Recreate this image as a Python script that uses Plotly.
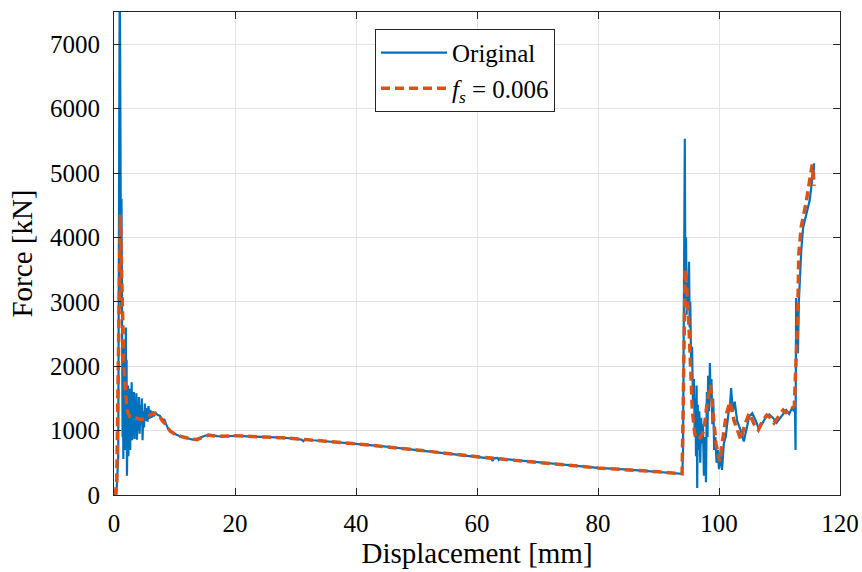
import plotly.graph_objects as go

orig_disp = [0.00, 0.40, 0.70, 0.85, 0.95, 1.05, 1.12, 1.18, 1.24, 1.30, 1.36, 1.42, 1.48, 1.54, 1.60,
             1.66, 1.72, 1.78, 1.84, 1.90, 1.96, 2.02, 2.08, 2.14, 2.20, 2.26, 2.32, 2.38, 2.45, 2.52,
             2.60, 2.68, 2.76, 2.84, 2.92, 3.00, 3.10, 3.20, 3.30, 3.40, 3.50, 3.60, 3.70, 3.80, 3.90,
             4.00, 4.12, 4.24, 4.36, 4.48, 4.60, 4.72, 4.84, 4.96, 5.10, 5.25, 5.40, 5.55, 5.70, 5.85,
             6.00, 6.20, 6.40, 6.60, 6.80, 7.00, 7.30, 7.60, 8.00, 8.30, 8.60, 9.00, 10.0, 11.0, 12.0,
             13.0, 14.0, 15.0, 16.0, 17.0, 18.5, 20.0, 22.0, 25.0, 28.0, 30.0, 31.0, 31.3, 31.6, 33.0,
             36.0, 40.0, 45.0, 50.0, 54.0, 57.0, 60.0, 62.4, 62.6, 62.8, 63.4, 63.6, 63.8, 66.0, 70.0,
             75.0, 80.0, 85.0, 90.0, 93.9, 94.05, 94.2, 94.35, 94.45, 94.55, 94.65, 94.75, 94.85, 95.05,
             95.15, 95.25, 95.4, 95.55, 95.7, 95.85, 96.0, 96.1, 96.2, 96.3, 96.4, 96.5, 96.6, 96.75,
             96.9, 97.05, 97.2, 97.35, 97.5, 97.7, 97.85, 98.0, 98.1, 98.2, 98.35, 98.5, 98.6, 98.75,
             98.9, 99.05, 99.2, 99.4, 99.6, 99.8, 100.0, 100.2, 100.5, 100.8, 101.1, 101.4, 101.6, 101.8,
             102.0, 102.3, 102.6, 103.0, 103.6, 104.1, 104.6, 105.0, 105.5, 106.1, 106.6, 107.1, 107.7,
             108.3, 108.9, 109.5, 110.1, 110.6, 111.1, 111.6, 112.1, 112.4, 112.55, 112.65, 112.75,
             112.85, 112.95, 113.05, 113.2, 113.4, 113.6, 113.9, 114.3, 114.7, 115.0, 115.3, 115.45,
             115.55, 115.62, 115.7]
orig_force = [0, 0, 600, 4500, 8300, 6000, 4700, 2900, 4600, 1900, 3400, 900, 2200, 560, 1800,
              1000, 2300, 700, 1900, 1200, 2600, 800, 2100, 300, 1500, 900, 1700, 600, 1400, 800,
              1650, 700, 1500, 1000, 1750, 850, 1300, 950, 1600, 870, 1450, 1050, 1580, 860, 1350,
              1000, 1520, 950, 1400, 1100, 1500, 850, 1300, 1050, 1420, 1150, 1350, 1140, 1380, 1180,
              1320, 1200, 1300, 1220, 1290, 1260, 1240, 1230, 1140, 1180, 1100, 1020, 950, 910, 885,
              860, 880, 920, 935, 915, 910, 920, 910, 900, 890, 870, 860, 835, 865, 850,
              830, 795, 750, 700, 655, 630, 595, 565, 530, 570, 575, 545, 565, 545, 505,
              460, 420, 395, 360, 330, 600, 3500, 5530, 3000, 4000, 2800, 3300, 2900, 3620,
              2600, 3000, 2000, 2300, 1400, 1800, 900, 1500, 600, 1700, 110, 1400, 700, 1300,
              500, 1200, 800, 1100, 300, 900, 200, 1600, 900, 1850, 1300, 2050, 1500, 1800,
              1100, 1500, 700, 900, 500, 700, 400, 650, 390, 800, 900, 1200, 1300, 1350, 1660,
              1300, 1450, 1150, 1000, 830, 1050, 1220, 1270, 1150, 1020, 1100, 1200, 1250,
              1200, 1120, 1200, 1270, 1320, 1260, 1350, 1300, 1380, 700, 3060, 2300, 2900,
              2200, 3000, 3400, 3800, 4150, 4300, 4420, 4580, 4820, 4950, 5100, 4900,
              5150, 4700, 4350]

# Filtered curve, f_s = 0.006
filt_disp = [0.0, 0.2, 0.45, 0.6, 0.75, 0.9, 1.05, 1.2, 1.4, 1.6, 1.9, 2.2, 2.6, 3.0, 3.5, 4.0, 4.5,
             5.0, 5.5, 6.0, 6.5, 7.0, 7.5, 8.0, 8.5, 9.3, 10.0, 11.0, 12.0, 13.0, 13.7, 14.5, 15.6,
             17.0, 20.0, 25.0, 30.0, 35.0, 40.0, 50.0, 60.0, 70.0, 80.0, 90.0, 93.9, 94.1, 94.25,
             94.4, 94.6, 94.8, 95.0, 95.3, 95.6, 96.0, 96.5, 97.0, 97.5, 98.0, 98.6, 99.0, 99.5,
             100.1, 100.6, 101.2, 101.8, 102.5, 103.6, 104.3, 105.0, 105.8, 106.5, 107.2, 107.9,
             108.5, 109.1, 109.8, 110.6, 111.1, 111.6, 112.1, 112.45, 112.7, 113.0, 113.2, 113.6,
             114.4, 115.1, 115.4, 115.6, 115.7]
filt_force = [0, 0, 200, 1500, 3000, 4000, 4350, 3700, 2700, 2100, 1600, 1300, 1220, 1230, 1200, 1180, 1170,
              1190, 1220, 1250, 1270, 1260, 1230, 1150, 1100, 990, 950, 910, 885, 865, 860, 890, 930,
              910, 920, 900, 875, 835, 795, 700, 595, 505, 420, 360, 330, 1500, 3000,
              3500, 3300, 3000, 2700, 2000, 1300, 950, 860, 900, 1000, 1400, 1710, 1300, 800,
              520, 850, 1250, 1450, 1150, 860, 1100, 1270, 1100, 1010, 1150, 1240,
              1200, 1120, 1220, 1320, 1280, 1290, 1350, 1380, 2000, 2720, 3760, 4170,
              4540, 4950, 5130, 5000, 4800]

x_ticks = [0, 20, 40, 60, 80, 100, 120]
y_ticks = [0, 1000, 2000, 3000, 4000, 5000, 6000, 7000]

FONT = "Liberation Serif"
AX = "#262626"

fig = go.Figure()
fig.add_trace(go.Scatter(x=orig_disp, y=orig_force, mode="lines", name="Original",
                         line=dict(color="#0072BD", width=2.2)))
fig.add_trace(go.Scatter(x=filt_disp, y=filt_force, mode="lines",
                         name="<i>f</i><sub><i>s</i></sub> = 0.006",
                         line=dict(color="#D95319", width=3.5, dash="9px,5px")))

axis_common = dict(showline=True, mirror="ticks", linecolor=AX, linewidth=1,
                   ticks="inside", ticklen=7, tickcolor=AX, tickwidth=1,
                   showgrid=True, gridcolor="#e3e3e3", gridwidth=1, zeroline=False,
                   automargin=False,
                   tickfont=dict(family=FONT, size=25, color="black"))

fig.update_xaxes(range=[0, 120], tickvals=x_ticks, ticklabelstandoff=6,
                 title=dict(text="Displacement [mm]", font=dict(family=FONT, size=29, color="black"),
                            standoff=2),
                 **axis_common)
fig.update_yaxes(range=[0, 7500], tickvals=y_ticks, ticklabelstandoff=8,
                 title=dict(text="Force [kN]", font=dict(family=FONT, size=29, color="black"),
                            standoff=8),
                 **axis_common)

fig.update_layout(
    width=862, height=572,
    margin=dict(l=114, r=22, t=12, b=77, autoexpand=False),
    plot_bgcolor="white", paper_bgcolor="white",
    font=dict(family=FONT, color="black"),
    legend=dict(x=0.3595, y=0.965, xanchor="left", yanchor="top",
                bgcolor="white", bordercolor=AX, borderwidth=1,
                font=dict(family=FONT, size=25, color="black"),
                itemwidth=66, tracegroupgap=0),
    showlegend=True,
)

fig.write_html("out.html", config={"displayModeBar": False},
               post_script="document.body.style.margin='0';document.body.style.overflow='hidden';")
